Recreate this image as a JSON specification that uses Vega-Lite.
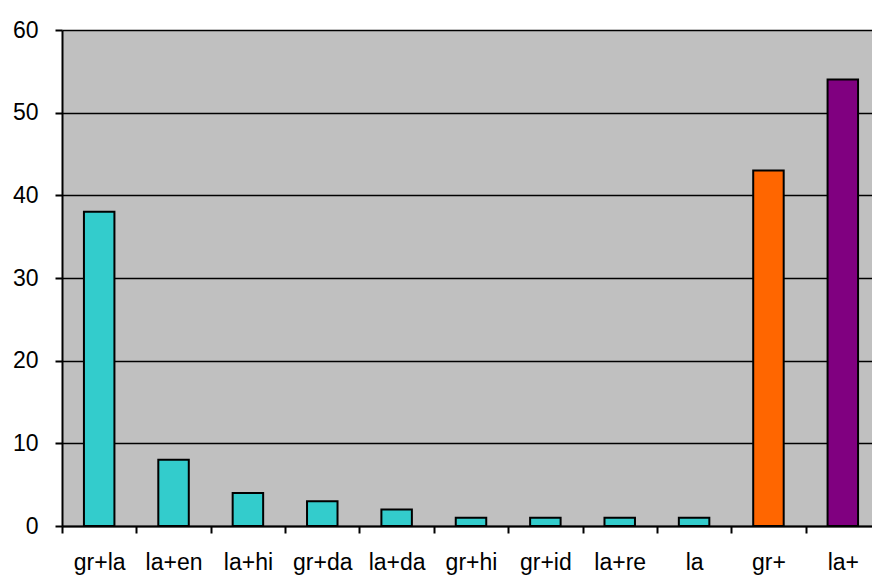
{
  "$schema": "https://vega.github.io/schema/vega-lite/v6.json",
  "width": 818,
  "height": 496,
  "autosize": "none",
  "padding": {"left": 62, "top": 30, "right": 0, "bottom": 51},
  "background": "white",
  "config": {
    "view": {"fill": "#C0C0C0", "stroke": null},
    "font": "Liberation Sans"
  },
  "data": {
    "values": [
      {"combo": "gr+la", "count": 38, "group": "a"},
      {"combo": "la+en", "count": 8, "group": "a"},
      {"combo": "la+hi", "count": 4, "group": "a"},
      {"combo": "gr+da", "count": 3, "group": "a"},
      {"combo": "la+da", "count": 2, "group": "a"},
      {"combo": "gr+hi", "count": 1, "group": "a"},
      {"combo": "gr+id", "count": 1, "group": "a"},
      {"combo": "la+re", "count": 1, "group": "a"},
      {"combo": "la", "count": 1, "group": "a"},
      {"combo": "gr+", "count": 43, "group": "b"},
      {"combo": "la+", "count": 54, "group": "c"}
    ]
  },
  "mark": {"type": "bar", "stroke": "black", "strokeWidth": 2, "width": {"band": 0.41}},
  "encoding": {
    "x": {
      "field": "combo",
      "type": "nominal",
      "sort": null,
      "scale": {"paddingInner": 0, "paddingOuter": 0},
      "axis": {
        "title": null,
        "labelAngle": 0,
        "labelFont": "Liberation Sans",
        "labelFontSize": 23,
        "labelColor": "black",
        "labelPadding": 18,
        "tickBand": "extent",
        "tickSize": 7,
        "tickColor": "black",
        "tickWidth": 2,
        "domainColor": "black",
        "domainWidth": 2,
        "grid": false
      }
    },
    "y": {
      "field": "count",
      "type": "quantitative",
      "scale": {"domain": [0, 60], "nice": false},
      "axis": {
        "title": null,
        "values": [0, 10, 20, 30, 40, 50, 60],
        "labelFont": "Liberation Sans",
        "labelFontSize": 23,
        "labelColor": "black",
        "labelPadding": 17,
        "tickSize": 7,
        "tickColor": "black",
        "tickWidth": 2,
        "domainColor": "black",
        "domainWidth": 2,
        "grid": true,
        "gridColor": "black",
        "gridWidth": 1.5,
        "gridOpacity": 1
      }
    },
    "color": {
      "field": "group",
      "type": "nominal",
      "scale": {"domain": ["a", "b", "c"], "range": ["#33CCCC", "#FF6600", "#800080"]},
      "legend": null
    }
  }
}
